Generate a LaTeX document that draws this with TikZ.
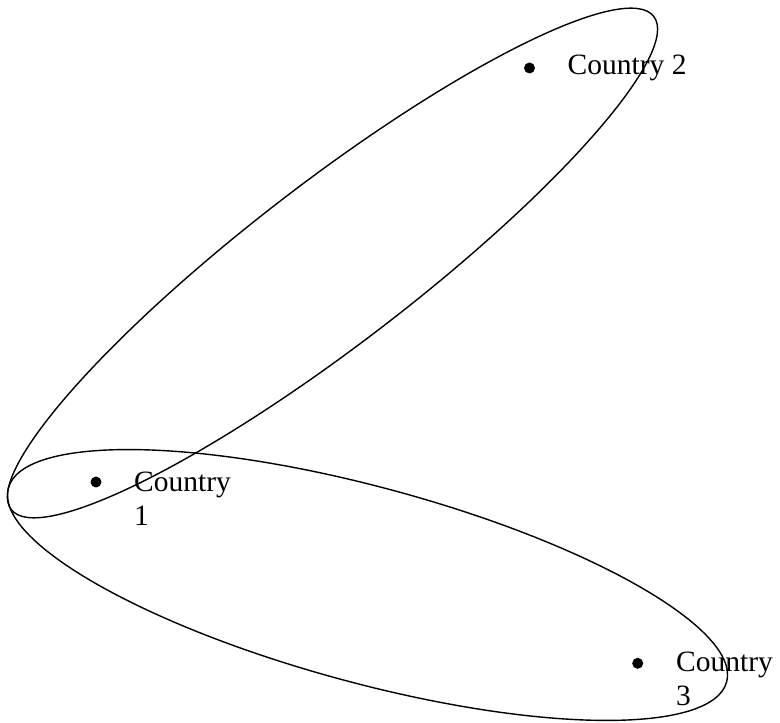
\documentclass[tikz,border=0pt]{standalone}
\usepackage{fontspec}
\setmainfont{Liberation Serif}
\usetikzlibrary{shapes.geometric}
\tikzset{
  grp/.style={draw, ellipse, line width=1.4pt, inner sep=0pt, outer sep=0pt},
  dot/.style={circle, fill=black, inner sep=0pt, minimum size=11pt},
  lbl/.style={anchor=base west, inner sep=0pt, align=left,
    font=\fontsize{29.5}{34}\selectfont}
}
\begin{document}
\begin{tikzpicture}[x=1pt,y=1pt]
\useasboundingbox (0,0) rectangle (780,723);
\node[grp, minimum width=810pt, minimum height=162pt, rotate=37.5] (gA) at (332.5,460) {};
\node[grp, minimum width=744pt, minimum height=196pt, rotate=-15.1] (gB) at (367.5,138) {};
\node[dot] (c1) at (96,241) {};
\node[dot] (c2) at (529.5,655) {};
\node[dot] (c3) at (637.7,59.7) {};
\node[lbl] (t1) at (134,197) {Country\\1};
\node[lbl] (t2) at (567.5,648) {Country 2};
\node[lbl] (t3) at (676,17) {Country\\3};
\end{tikzpicture}
\end{document}
